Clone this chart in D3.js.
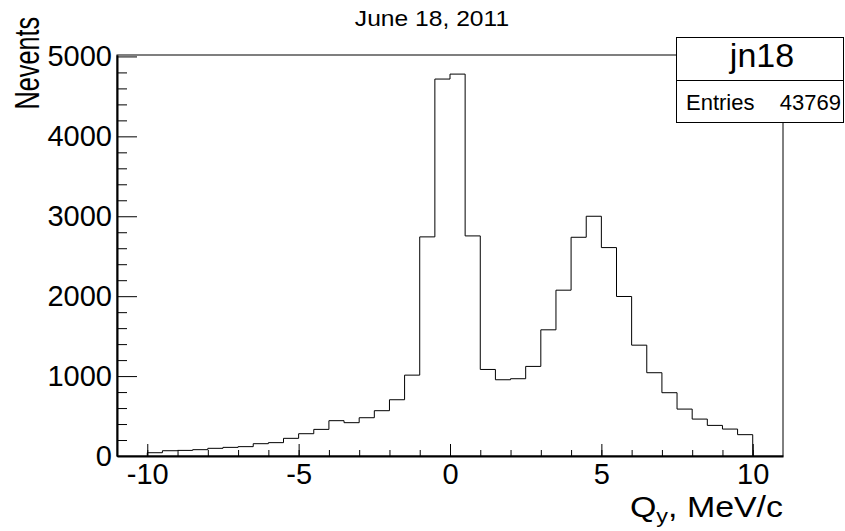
<!DOCTYPE html>
<meta charset="utf-8">
<style>
body { margin: 0; background: #fff; }
text { font-family: "Liberation Sans", Arial, Helvetica, sans-serif; fill: #000; }
.hist { fill: none; stroke: #000; stroke-width: 1px; }
.axis path, .axis line { stroke: #000; }
</style>
<body>
<script src="https://d3js.org/d3.v7.min.js"></script>
<script>
// histogram bin edges (Q_y, MeV/c) and bin contents
var binEdges = [-10, -9.5, -9, -8.5, -8, -7.5, -7, -6.5, -6, -5.5,
                -5, -4.5, -4, -3.5, -3, -2.5, -2, -1.5, -1, -0.5,
                0, 0.5, 1, 1.5, 2, 2.5, 3, 3.5, 4, 4.5,
                5, 5.5, 6, 6.5, 7, 7.5, 8, 8.5, 9, 9.5, 10];
var counts = [41, 66, 70, 79, 96, 108, 117, 154, 167, 221,
              279, 333, 442, 417, 479, 567, 704, 1012, 2742, 4717,
              4779, 2754, 1083, 954, 967, 1121, 1579, 2075, 2737, 3000,
              2608, 1996, 1387, 1042, 792, 587, 462, 383, 337, 267];
var xMajor = [-10, -5, 0, 5, 10];
var xMinor = [-10, -9, -8, -7, -6, -5, -4, -3, -2, -1, 0, 1, 2, 3, 4, 5, 6, 7, 8, 9, 10];
var yMajor = [0, 1000, 2000, 3000, 4000, 5000];
var yMinor = [200, 400, 600, 800, 1200, 1400, 1600, 1800, 2200, 2400, 2600, 2800,
              3200, 3400, 3600, 3800, 4200, 4400, 4600, 4800];
var title = "June 18, 2011";
var histName = "jn18";
var entries = 43769;

var W = 845, H = 531;
var frame = {left: 117, right: 783, top: 55, bottom: 456};

var svg = d3.select("body").append("svg")
    .attr("width", W)
    .attr("height", H);

var x = d3.scaleLinear().domain([-11, 11]).range([frame.left, frame.right]);
var y = d3.scaleLinear().domain([0, 1.05 * d3.max(counts)]).range([frame.bottom, frame.top]);

// frame box
svg.append("rect")
    .attr("x", frame.left).attr("y", frame.top)
    .attr("width", frame.right - frame.left)
    .attr("height", frame.bottom - frame.top)
    .attr("fill", "none").attr("stroke", "#000").attr("stroke-width", 1);

// histogram outline
var pts = [[binEdges[0], 0]];
counts.forEach(function(c, i) {
  pts.push([binEdges[i], c]);
  pts.push([binEdges[i + 1], c]);
});
pts.push([binEdges[binEdges.length - 1], 0]);

var line = d3.line()
    .x(function(d) { return x(d[0]); })
    .y(function(d) { return y(d[1]); });

svg.append("path")
    .datum(pts)
    .attr("class", "hist")
    .attr("d", line);

// plain hyphen labels like ROOT
var plain = function(d) { return String(d); };

// x axis: minor ticks, then major ticks with labels
svg.append("g")
    .attr("class", "axis")
    .attr("transform", "translate(0," + frame.bottom + ")")
    .call(d3.axisBottom(x).tickValues(xMinor).tickSizeInner(-6).tickSizeOuter(0).tickFormat(""))
    .call(function(g) { g.select(".domain").remove(); });

var xAx = svg.append("g")
    .attr("class", "axis")
    .attr("transform", "translate(0," + frame.bottom + ")")
    .call(d3.axisBottom(x).tickValues(xMajor).tickSizeInner(-12).tickSizeOuter(0).tickPadding(7).tickFormat(plain));
xAx.select(".domain").attr("stroke-width", 2);
xAx.selectAll("text").style("font-size", "29px").attr("font-family", null);

// y axis
svg.append("g")
    .attr("class", "axis")
    .attr("transform", "translate(" + frame.left + ",0)")
    .call(d3.axisLeft(y).tickValues(yMinor).tickSizeInner(-10).tickSizeOuter(0).tickFormat(""))
    .call(function(g) { g.select(".domain").remove(); });

var yAx = svg.append("g")
    .attr("class", "axis")
    .attr("transform", "translate(" + frame.left + ",0)")
    .call(d3.axisLeft(y).tickValues(yMajor).tickSizeInner(-20).tickSizeOuter(0).tickPadding(5).tickFormat(plain));
yAx.select(".domain").attr("stroke-width", 2);
yAx.selectAll("text").style("font-size", "29px").attr("font-family", null);

// axis titles
var xt = svg.append("text")
    .attr("transform", "translate(" + frame.right + ",517) scale(1.17,1)")
    .attr("text-anchor", "end")
    .style("font-size", "29px");
xt.append("tspan").text("Q");
xt.append("tspan").attr("dy", 6).style("font-size", "20px").text("y");
xt.append("tspan").attr("dy", -6).text(", MeV/c");

svg.append("text")
    .attr("transform", "translate(39,17) rotate(-90) scale(0.84,1.2)")
    .attr("text-anchor", "end")
    .style("font-size", "30px")
    .text("Nevents");

// title
svg.append("text")
    .attr("transform", "translate(432,26) scale(1.12,1)")
    .attr("text-anchor", "middle")
    .style("font-size", "22px")
    .text(title);

// stats box
var box = {x: 676, y: 37, w: 168, h: 85, split: 80};
svg.append("rect")
    .attr("x", box.x + 0.5).attr("y", box.y + 0.5)
    .attr("width", box.w - 1).attr("height", box.h)
    .attr("fill", "#fff").attr("stroke", "#000").attr("stroke-width", 1);
svg.append("line")
    .attr("x1", box.x).attr("x2", box.x + box.w)
    .attr("y1", box.split + 0.5).attr("y2", box.split + 0.5)
    .attr("stroke", "#000");
svg.append("text")
    .attr("x", box.x + box.w / 2 + 2)
    .attr("y", 67)
    .attr("text-anchor", "middle")
    .style("font-size", "34px")
    .text(histName);
svg.append("text")
    .attr("x", 686)
    .attr("y", 110)
    .style("font-size", "22px")
    .text("Entries");
svg.append("text")
    .attr("x", 841)
    .attr("y", 110)
    .attr("text-anchor", "end")
    .style("font-size", "22px")
    .text(entries);
</script>
</body>
